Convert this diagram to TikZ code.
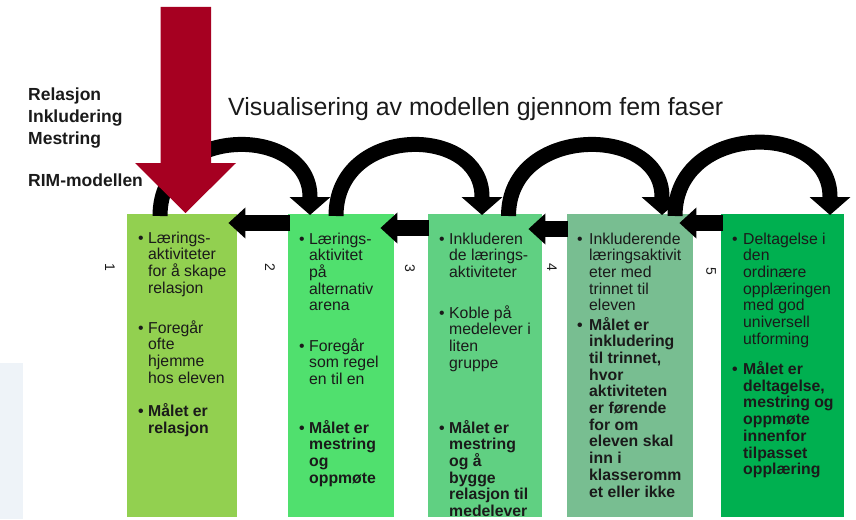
\documentclass[tikz,border=0pt]{standalone}
\usepackage{fontspec}
\setmainfont{Liberation Sans}
\usetikzlibrary{arrows.meta,calc}
\definecolor{cA}{RGB}{146,208,80}
\definecolor{cB}{RGB}{80,224,110}
\definecolor{cC}{RGB}{96,208,130}
\definecolor{cD}{RGB}{120,190,145}
\definecolor{cE}{RGB}{0,176,80}
\definecolor{redA}{RGB}{166,0,33}
\definecolor{ink}{RGB}{26,26,26}
\definecolor{faint}{RGB}{238,243,248}
\newcommand{\bul}[2]{\parbox[t]{130pt}{\hangindent=#1\hangafter=1 \makebox[#1][l]{•}#2}}
\begin{document}
\begin{tikzpicture}[x=1pt,y=-1pt,
 box/.style={draw=none, inner sep=0, anchor=north west, minimum height=303pt},
 txt/.style={inner sep=0, anchor=base west, text=ink, font=\fontsize{15.8pt}{16.7pt}\selectfont},
 num/.style={inner sep=0, text=ink, font=\fontsize{14pt}{16pt}\selectfont, rotate=-90},
 harr/.style={draw=black, line width=16pt, -{Triangle[length=17pt,width=30pt]}},
 carr/.style={draw=black, line width=15pt, -{Triangle[length=18pt,width=40pt]}},
 lbl/.style={inner sep=0, anchor=base west, text=ink, font=\fontsize{17.5pt}{21pt}\selectfont\bfseries}]
\useasboundingbox (0,0) rectangle (856,519);
\fill[faint] (0,363) rectangle (23,519);

% boxes
\node[box, fill=cA, minimum width=110.5pt] (b1) at (126.5,214) {};
\node[box, fill=cB, minimum width=105.5pt] (b2) at (288,214) {};
\node[box, fill=cC, minimum width=114pt] (b3) at (428,214) {};
\node[box, fill=cD, minimum width=125.5pt] (b4) at (567,214) {};
\node[box, fill=cE, minimum width=123pt] (b5) at (721,214) {};

% numbers
\node[num] (n1) at (110,267) {1};
\node[num] (n2) at (270,267) {2};
\node[num] (n3) at (410,268) {3};
\node[num] (n4) at (552,267) {4};
\node[num] (n5) at (711,271) {5};

% texts
\node[txt] (t1a) at (138,243) {\bul{10pt}{Lærings-\\aktiviteter\\for å skape\\relasjon}};
\node[txt] (t1b) at (138,333) {\bul{10pt}{Foregår\\ofte\\hjemme\\hos eleven}};
\node[txt] (t1c) at (138,416.5) {\bfseries\bul{10pt}{Målet er\\relasjon}};

\node[txt] (t2a) at (299,244) {\bul{10pt}{Lærings-\\aktivitet\\på\\alternativ\\arena}};
\node[txt] (t2b) at (299,351) {\bul{10pt}{Foregår\\som regel\\en til en}};
\node[txt] (t2c) at (299,433) {\bfseries\bul{10pt}{Målet er\\mestring\\og\\oppmøte}};

\node[txt] (t3a) at (439,244) {\bul{10pt}{Inkluderen\\de lærings-\\aktiviteter}};
\node[txt] (t3b) at (439,318) {\bul{10pt}{Koble på\\medelever i\\liten\\gruppe}};
\node[txt] (t3c) at (439,433) {\bfseries\bul{10pt}{Målet er\\mestring\\og å\\bygge\\relasjon til\\medelever}};

\node[txt] (t4a) at (577,244) {\bul{12pt}{Inkluderende\\læringsaktivit\\eter med\\trinnet til\\eleven}};
\node[txt] (t4b) at (577,330) {\bfseries\bul{12pt}{Målet er\\inkludering\\til trinnet,\\hvor\\aktiviteten\\er førende\\for om\\eleven skal\\inn i\\klasseromm\\et eller ikke}};

\node[txt] (t5a) at (732,244) {\bul{11pt}{Deltagelse i\\den\\ordinære\\opplæringen\\med god\\universell\\utforming}};
\node[txt] (t5b) at (732,374.5) {\bfseries\bul{11pt}{Målet er\\deltagelse,\\mestring og\\oppmøte\\innenfor\\tilpasset\\opplæring}};

% horizontal arrows
\draw[harr] ($(b2.north west)+(2,9)$) -- ($(b1.north east)+(-9,9)$);
\draw[harr] ($(b3.north west)+(1,14)$) -- ($(b2.north east)+(-13.5,14)$);
\draw[harr] ($(b4.north west)+(1,15)$) -- ($(b3.north east)+(-14,15)$);
\draw[harr] ($(b5.north west)+(2,9)$) -- ($(b4.north east)+(-13.5,9)$);

% curved arrows
\draw[carr] ($(b1.north west)+(33.5,2)$) .. controls +(0,-92) and +(0,-73) .. ++(150,-19) -- ++(0,18);
\draw[carr] ($(b2.north west)+(48,2)$) .. controls +(0,-92) and +(0,-73) .. ++(146,-19) -- ++(0,18);
\draw[carr] ($(b3.north west)+(80.5,2)$) .. controls +(0,-92) and +(0,-73) .. ++(153.5,-19) -- ++(0,18);
\draw[carr] ($(b4.north west)+(108,2)$) .. controls +(0,-94) and +(0,-77) .. ++(155,-19) -- ++(0,18);

% red arrow
\fill[redA] (160.5,7) -- (211,7) -- (211,163) -- (236,163) -- (185.5,213) -- (135,163) -- (160.5,163) -- cycle;

% labels
\node[inner sep=0, anchor=base west, text=ink, font=\fontsize{24.9pt}{28pt}\selectfont] (title) at (228,115) {Visualisering av modellen gjennom fem faser};
\node[lbl] (l1) at (28,100) {Relasjon};
\node[lbl] (l2) at (28,122.5) {Inkludering};
\node[lbl] (l3) at (28,144) {Mestring};
\node[lbl] (l4) at (28,186.5) {RIM-modellen};
\end{tikzpicture}
\end{document}
